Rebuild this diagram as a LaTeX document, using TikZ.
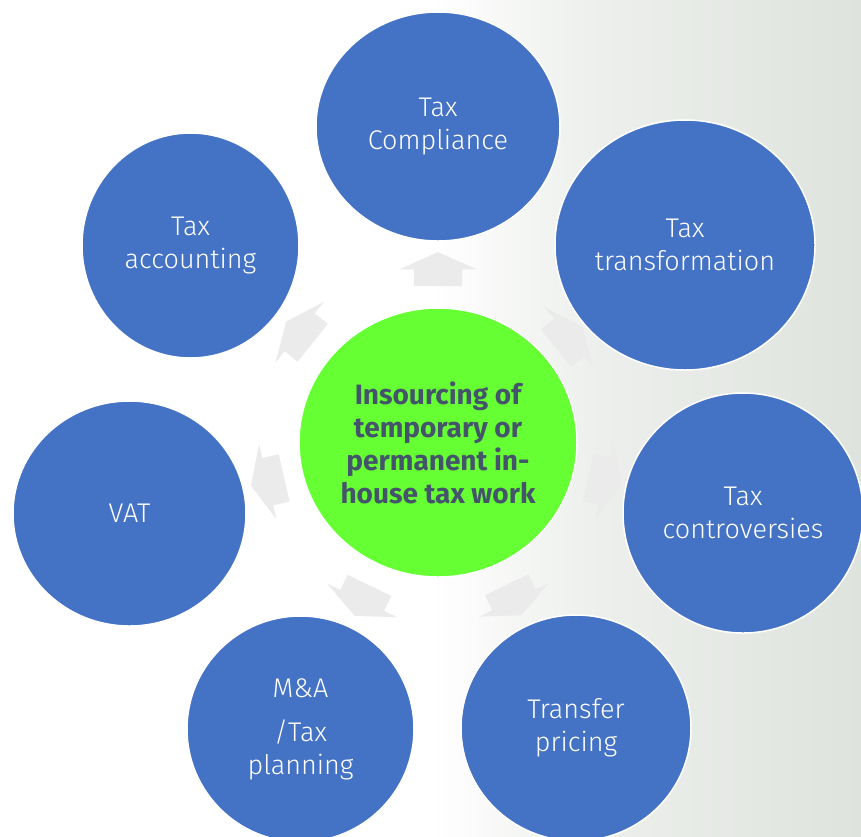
\documentclass[tikz,border=0pt]{standalone}
\usepackage{fontspec}
\setmainfont{Fira Sans}
\newfontfamily\thinsans{Fira Sans Light}
\usetikzlibrary{shapes.geometric,shapes.arrows}

\definecolor{topicblue}{RGB}{68,114,196}
\definecolor{hubgreen}{RGB}{102,255,51}
\definecolor{hubtext}{RGB}{68,84,106}
\definecolor{flowgrey}{RGB}{235,235,235}
\definecolor{bgmid}{RGB}{236,239,235}
\definecolor{bgend}{RGB}{223,227,222}

\tikzset{
  topic/.style={ellipse, fill=topicblue, draw=white, line width=1.5pt, inner sep=0pt,
    text=white, align=center, font=\thinsans\fontsize{27}{33}\selectfont},
  hub/.style={ellipse, fill=hubgreen, draw=white, line width=1.5pt, inner sep=0pt,
    text=hubtext, align=center, font=\bfseries\fontsize{28}{33}\selectfont},
  flow/.style={single arrow, fill=flowgrey, minimum height=34pt, inner xsep=0pt,
    inner ysep=24pt, single arrow head extend=14.5pt, single arrow tip angle=132,
    sloped, allow upside down},
}

\begin{document}
\begin{tikzpicture}[x=1pt,y=-1pt]
\useasboundingbox (0,0) rectangle (861,836);
%\draw[help lines,step=50] (0,0) grid (861,836);
\fill[white] (0,0) rectangle (430,836);
\shade[left color=white,right color=bgmid] (430,0) rectangle (600,836);
\shade[left color=bgmid,right color=bgend] (600,0) rectangle (861,836);

\node[hub,minimum width=278pt,minimum height=269pt] (hub) at (438,442.5) {Insourcing of\\
temporary or\\
permanent in-\\
house tax work};

\node[topic,minimum width=244pt,minimum height=229pt] (comp) at (438,126.5) {Tax\\Compliance};
\node[topic,minimum width=260pt,minimum height=250pt] (transf) at (685,245) {Tax\\transformation};
\node[topic,minimum width=240pt,minimum height=240pt] (contr) at (743,513) {Tax\\controversies};
\node[topic,minimum width=230pt,minimum height=226pt] (tp) at (576,728) {Transfer\\pricing};
\node[topic,minimum width=227pt,minimum height=226pt] (ma) at (300.5,729) {M\&A\\[11pt]/Tax\\planning};
\node[topic,minimum width=233pt,minimum height=225pt] (vat) at (129.5,513.5) {VAT};
\node[topic,minimum width=217pt,minimum height=225pt] (acc) at (190.5,245.5) {Tax\\accounting};

\foreach \t in {comp,transf,contr,tp,ma,vat,acc}
  \path (hub) -- node[flow] {} (\t);
\end{tikzpicture}
\end{document}
